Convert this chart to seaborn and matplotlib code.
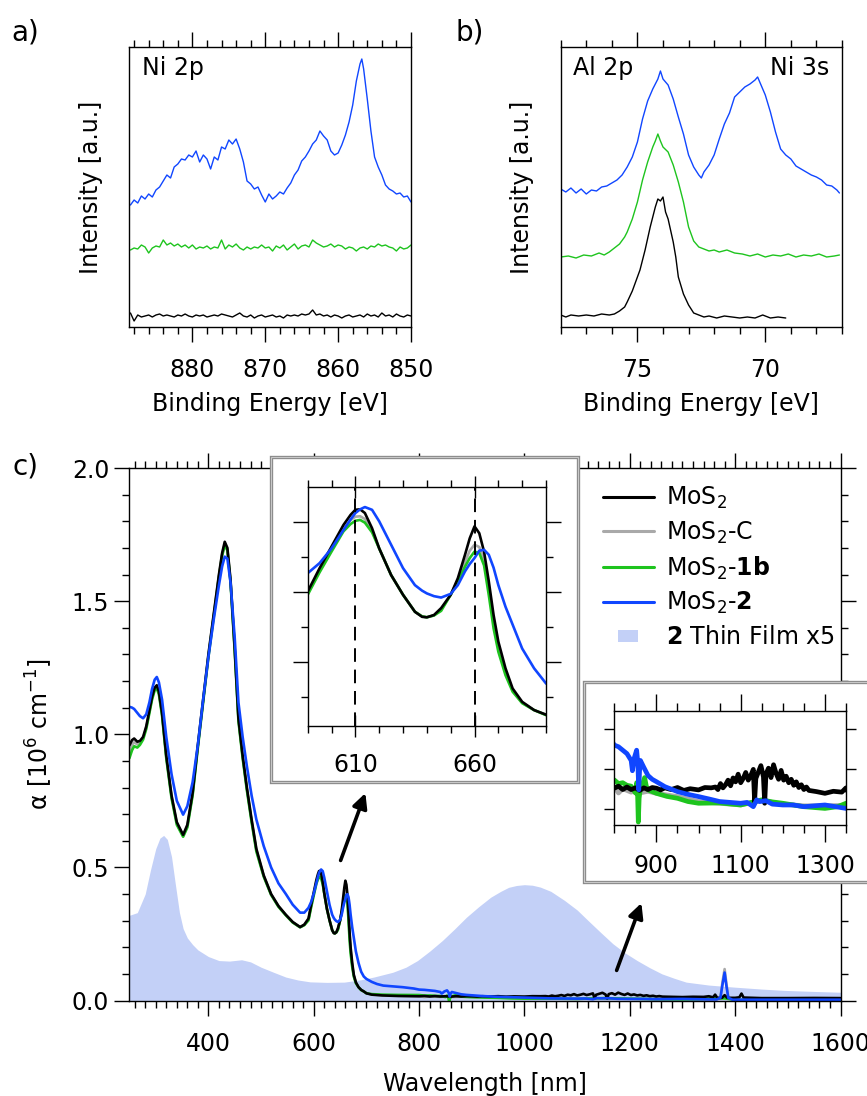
import numpy as np
import matplotlib
matplotlib.use("Agg")
import matplotlib.pyplot as plt
import seaborn as sns
from matplotlib.lines import Line2D
from matplotlib.patches import Rectangle
from matplotlib.ticker import MultipleLocator, FixedLocator, FormatStrFormatter

# ---------------- DATA ----------------
# Panel a: Ni 2p (binding energy, eV; intensity a.u.)
ni2p_blue_x = [888.5, 888.0, 887.5, 887.0, 886.5, 886.0, 885.5, 885.0, 884.5, 884.0,
               883.5, 883.0, 882.5, 882.0, 881.5, 881.0, 880.5, 880.0, 879.5, 879.0,
               878.5, 878.0, 877.5, 877.0, 876.5, 876.0, 875.5, 875.0, 874.5, 874.0,
               873.5, 873.0, 872.5, 872.0, 871.5, 871.0, 870.5, 870.0, 869.5, 869.0,
               868.5, 868.0, 867.5, 867.0, 866.5, 866.0, 865.5, 865.0, 864.5, 864.0,
               863.5, 863.0, 862.5, 862.0, 861.5, 861.0, 860.5, 860.0, 859.5, 859.0,
               858.5, 858.0, 857.5, 857.0, 856.75, 856.5, 856.0, 855.5, 855.0, 854.5,
               854.0, 853.5, 853.0, 852.5, 852.0, 851.5, 851.0, 850.5, 850.0]
ni2p_blue_y = [122, 127, 124, 131, 128, 133, 130, 137, 140, 146,
               152, 149, 160, 163, 168, 167, 172, 170, 176, 165,
               172, 168, 158, 170, 167, 180, 178, 187, 183, 188,
               178, 165, 146, 143, 138, 140, 132, 125, 133, 128,
               131, 135, 133, 139, 144, 152, 157, 166, 170, 176,
               183, 187, 196, 191, 187, 176, 172, 174, 182, 192,
               205, 222, 246, 263, 268, 258, 228, 196, 170, 160,
               152, 142, 138, 136, 133, 134, 130, 131, 125]
ni2p_grid = np.arange(888.5, 849.9, -0.5)
ni2p_green_y = [77, 79, 78, 82, 80, 74, 79, 81, 80, 87,
                82, 84, 81, 83, 80, 82, 79, 82, 78, 80,
                79, 81, 78, 80, 79, 87, 78, 82, 80, 83,
                79, 77, 80, 78, 80, 79, 82, 79, 80, 76,
                81, 79, 82, 77, 80, 83, 78, 81, 82, 80,
                87, 84, 82, 80, 81, 83, 80, 82, 81, 78,
                80, 79, 76, 79, 80, 78, 81, 80, 83, 81,
                82, 80, 79, 76, 80, 78, 79, 82]
ni2p_black_y = [14, 6, 12, 10, 11, 12, 10, 12, 13, 11,
                12, 11, 10, 12, 11, 13, 11, 10, 12, 11,
                12, 10, 11, 12, 11, 13, 12, 11, 10, 12,
                14, 11, 10, 12, 9, 11, 12, 10, 11, 12,
                10, 11, 9, 12, 11, 12, 11, 13, 12, 13,
                17, 12, 13, 11, 12, 10, 12, 11, 9, 11,
                12, 10, 11, 12, 10, 13, 11, 12, 10, 14,
                11, 12, 10, 13, 11, 10, 12, 11]

# Panel b: Al 2p / Ni 3s
b_blue_x = [78.0, 77.8, 77.6, 77.4, 77.2, 77.0, 76.8, 76.6, 76.4, 76.2,
            76.0, 75.8, 75.6, 75.4, 75.2, 75.0, 74.8, 74.6, 74.4, 74.2,
            74.1, 74.0, 73.8, 73.6, 73.4, 73.2, 73.0, 72.8, 72.6, 72.5,
            72.4, 72.2, 72.0, 71.8, 71.6, 71.4, 71.2, 71.0, 70.8, 70.6,
            70.4, 70.3, 70.2, 70.0, 69.8, 69.6, 69.4, 69.2, 69.0, 68.8,
            68.6, 68.4, 68.2, 68.0, 67.8, 67.6, 67.4, 67.2, 67.1]
b_blue_y = [138, 135, 139, 134, 138, 133, 137, 136, 140, 141,
            144, 147, 152, 160, 170, 185, 208, 226, 238, 248,
            256, 248, 242, 228, 210, 193, 172, 160, 152, 149,
            155, 162, 172, 188, 203, 214, 230, 235, 240, 243,
            247, 250, 244, 232, 215, 195, 178, 172, 168, 161,
            158, 155, 152, 150, 147, 142, 141, 137, 134]
b_green_x = [78.0, 77.7, 77.4, 77.1, 76.8, 76.5, 76.3, 76.1, 75.9, 75.7,
             75.5, 75.4, 75.2, 75.0, 74.8, 74.6, 74.4, 74.3, 74.2, 74.1,
             74.0, 73.8, 73.6, 73.4, 73.2, 73.0, 72.8, 72.6, 72.4, 72.2,
             72.0, 71.8, 71.5, 71.2, 70.9, 70.6, 70.3, 70.0, 69.7, 69.4,
             69.1, 68.8, 68.5, 68.2, 67.9, 67.6, 67.3, 67.1]
b_green_y = [70, 71, 69, 72, 71, 74, 72, 75, 79, 83,
             90, 95, 108, 125, 147, 165, 180, 186, 193, 186,
             180, 175, 162, 145, 125, 100, 86, 80, 78, 76,
             77, 75, 77, 74, 73, 71, 73, 70, 72, 71,
             73, 70, 72, 71, 73, 70, 71, 72]
b_black_x = [78.0, 77.8, 77.6, 77.3, 77.0, 76.7, 76.4, 76.1, 75.9, 75.7,
             75.5, 75.4, 75.2, 75.0, 74.9, 74.7, 74.5, 74.4, 74.3, 74.2,
             74.1, 74.0, 73.9, 73.8, 73.6, 73.5, 73.4, 73.2, 73.0, 72.8,
             72.6, 72.4, 72.2, 71.9, 71.6, 71.3, 71.0, 70.7, 70.4, 70.1,
             69.8, 69.5, 69.2]
b_black_y = [12, 10, 12, 11, 12, 11, 13, 12, 13, 16,
             20, 25, 36, 50, 57, 77, 100, 110, 120, 128,
             126, 130, 115, 108, 85, 70, 50, 33, 22, 14,
             12, 10, 11, 9, 11, 10, 9, 10, 9, 12,
             9, 10, 9]

# Panel c: absorption coefficient (10^6 cm^-1) vs wavelength (nm)
wl_vis = [250, 255, 259, 265, 270, 276, 282, 288, 293, 298,
          302, 306, 312, 320, 330, 340, 352, 360, 370, 380,
          390, 400, 410, 420, 426, 431, 436, 442, 450, 457,
          465, 473, 482, 491, 505, 519, 533, 547, 560, 574,
          582, 590, 595, 600, 605, 608, 610, 612, 614, 617,
          620, 625, 630, 635, 638, 640, 643, 646, 650, 653,
          656, 658, 660, 662, 664, 666, 668, 670, 673, 676,
          680, 685, 690]
mos2_vis = [0.958, 0.978, 0.984, 0.972, 0.975, 0.990, 1.030, 1.090, 1.140, 1.175,
            1.184, 1.160, 1.080, 0.920, 0.770, 0.670, 0.622, 0.660, 0.780, 0.960,
            1.130, 1.300, 1.450, 1.600, 1.680, 1.723, 1.700, 1.580, 1.320, 1.060,
            0.920, 0.800, 0.680, 0.570, 0.470, 0.400, 0.355, 0.322, 0.295, 0.276,
            0.285, 0.308, 0.359, 0.406, 0.453, 0.475, 0.486, 0.487, 0.479, 0.446,
            0.402, 0.344, 0.301, 0.264, 0.253, 0.252, 0.257, 0.272, 0.301, 0.337,
            0.388, 0.424, 0.450, 0.435, 0.395, 0.330, 0.257, 0.199, 0.141, 0.097,
            0.068, 0.050, 0.040]
mos2c_vis = [0.935, 0.960, 0.970, 0.962, 0.968, 0.985, 1.025, 1.085, 1.135, 1.170,
             1.178, 1.155, 1.075, 0.915, 0.765, 0.665, 0.618, 0.655, 0.775, 0.955,
             1.125, 1.295, 1.445, 1.595, 1.675, 1.715, 1.695, 1.575, 1.315, 1.055,
             0.915, 0.795, 0.675, 0.565, 0.468, 0.398, 0.353, 0.321, 0.294, 0.275,
             0.284, 0.304, 0.353, 0.399, 0.445, 0.464, 0.471, 0.472, 0.466, 0.441,
             0.402, 0.344, 0.301, 0.264, 0.254, 0.252, 0.256, 0.269, 0.301, 0.333,
             0.372, 0.397, 0.410, 0.405, 0.378, 0.315, 0.242, 0.188, 0.133, 0.093,
             0.066, 0.050, 0.040]
mos2_1b_vis = [0.910, 0.940, 0.955, 0.950, 0.960, 0.980, 1.020, 1.080, 1.130, 1.165,
               1.172, 1.150, 1.070, 0.910, 0.760, 0.660, 0.615, 0.650, 0.770, 0.950,
               1.120, 1.290, 1.440, 1.590, 1.670, 1.710, 1.690, 1.570, 1.310, 1.050,
               0.910, 0.790, 0.670, 0.560, 0.465, 0.397, 0.352, 0.320, 0.293, 0.275,
               0.283, 0.301, 0.350, 0.395, 0.439, 0.455, 0.462, 0.464, 0.458, 0.437,
               0.402, 0.344, 0.301, 0.264, 0.254, 0.252, 0.256, 0.266, 0.301, 0.330,
               0.362, 0.381, 0.395, 0.392, 0.365, 0.300, 0.228, 0.177, 0.126, 0.090,
               0.065, 0.050, 0.039]
mos2_2_vis = [1.103, 1.100, 1.095, 1.080, 1.068, 1.060, 1.075, 1.120, 1.170, 1.205,
              1.215, 1.195, 1.130, 0.990, 0.850, 0.750, 0.698, 0.730, 0.820, 0.960,
              1.130, 1.290, 1.430, 1.560, 1.630, 1.667, 1.660, 1.570, 1.360, 1.120,
              0.990, 0.880, 0.770, 0.680, 0.580, 0.500, 0.440, 0.400, 0.360, 0.330,
              0.330, 0.348, 0.370, 0.402, 0.442, 0.465, 0.479, 0.487, 0.492, 0.486,
              0.461, 0.410, 0.359, 0.322, 0.310, 0.304, 0.298, 0.295, 0.303, 0.322,
              0.352, 0.368, 0.381, 0.397, 0.399, 0.388, 0.360, 0.322, 0.275, 0.236,
              0.184, 0.141, 0.108]

mos2_nir_x = [695, 700, 710, 730, 760, 800, 810, 820, 830, 840,
              850, 860, 870, 880, 890, 900, 910, 920, 935, 950,
              965, 980, 1000, 1015, 1030, 1040, 1046, 1052, 1058, 1064,
              1070, 1076, 1082, 1088, 1094, 1100, 1106, 1112, 1118, 1124,
              1130, 1133, 1136, 1142, 1148, 1154, 1157, 1160, 1166, 1172,
              1178, 1184, 1190, 1196, 1202, 1208, 1214, 1220, 1226, 1232,
              1238, 1244, 1250, 1256, 1262, 1280, 1300, 1320, 1340, 1350,
              1358, 1362, 1366, 1375, 1380, 1385, 1400, 1408, 1412, 1416,
              1450, 1500, 1550, 1600]
mos2_nir_y = [0.034, 0.027, 0.022, 0.019, 0.017, 0.0158, 0.0170, 0.0150, 0.0165, 0.0150,
              0.0160, 0.0145, 0.0160, 0.0150, 0.0162, 0.0158, 0.0148, 0.0160, 0.0150, 0.0162,
              0.0145, 0.0155, 0.0148, 0.0162, 0.0160, 0.0165, 0.0150, 0.0185, 0.0160, 0.0178,
              0.0205, 0.0172, 0.0218, 0.0195, 0.0240, 0.0190, 0.0215, 0.0250, 0.0205, 0.0232,
              0.0268, 0.0080, 0.0215, 0.0252, 0.0290, 0.0225, 0.0070, 0.0240, 0.0275, 0.0220,
              0.0295, 0.0245, 0.0210, 0.0262, 0.0205, 0.0228, 0.0190, 0.0210, 0.0175, 0.0195,
              0.0162, 0.0178, 0.0150, 0.0165, 0.0145, 0.0138, 0.0128, 0.0140, 0.0135, 0.0160,
              0.0120, 0.0220, 0.0100, 0.0100, 0.0200, 0.0100, 0.0100, 0.0120, 0.0260, 0.0110,
              0.0090, 0.0090, 0.0095, 0.0090]
mos2c_nir_x = [695, 700, 710, 730, 760, 800, 810, 820, 840, 850,
               860, 880, 900, 950, 1000, 1050, 1100, 1150, 1200, 1250,
               1300, 1350, 1372, 1376, 1380, 1383, 1387, 1400, 1500, 1600]
mos2c_nir_y = [0.034, 0.028, 0.023, 0.020, 0.018, 0.0167, 0.013, 0.0155, 0.0135, 0.0145,
               0.013, 0.014, 0.0128, 0.0109, 0.008, 0.007, 0.006, 0.0085, 0.0065, 0.0055,
               0.0055, 0.0058, 0.010, 0.070, 0.118, 0.070, 0.010, 0.004, 0.004, 0.004]
mos2_1b_nir_x = [695, 700, 710, 730, 760, 800, 810, 820, 830, 840,
                 850, 853, 855, 857, 859, 862, 868, 872, 876, 880,
                 890, 900, 925, 950, 975, 1000, 1050, 1100, 1125, 1150,
                 1175, 1200, 1250, 1300, 1330, 1350, 1380, 1400, 1500, 1600]
mos2_1b_nir_y = [0.034, 0.027, 0.024, 0.022, 0.021, 0.0206, 0.0185, 0.019, 0.0175, 0.017,
                 0.013, 0.019, 0.015, -0.004, 0.010, 0.016, 0.019, 0.022, 0.017, 0.0148,
                 0.0138, 0.0128, 0.011, 0.0099, 0.008, 0.007, 0.0072, 0.006, 0.0075, 0.009,
                 0.0078, 0.007, 0.005, 0.004, 0.005, 0.007, 0.008, 0.002, 0.002, 0.002]
mos2_2_nir_x = [695, 700, 710, 720, 732, 750, 769, 790, 800, 810,
                820, 830, 840, 843, 848, 853, 856, 858, 860, 862,
                870, 880, 890, 900, 920, 950, 975, 1000, 1025, 1050,
                1075, 1100, 1115, 1130, 1138, 1145, 1160, 1175, 1200, 1225,
                1250, 1275, 1300, 1325, 1350, 1365, 1372, 1376, 1380, 1383,
                1387, 1395, 1450, 1500, 1550, 1600]
mos2_2_nir_y = [0.090, 0.081, 0.070, 0.062, 0.056, 0.053, 0.050, 0.045, 0.041, 0.040,
                0.038, 0.036, 0.032, 0.026, 0.034, 0.038, 0.030, 0.0148, 0.026, 0.032,
                0.028, 0.0232, 0.021, 0.0196, 0.0167, 0.0138, 0.0122, 0.0109, 0.0095, 0.008,
                0.0075, 0.007, 0.0075, 0.005, 0.009, 0.008, 0.0085, 0.0065, 0.006, 0.006,
                0.005, 0.0055, 0.006, 0.005, 0.004, 0.004, 0.010, 0.060, 0.105, 0.060,
                0.010, 0.003, 0.003, 0.003, 0.003, 0.003]

film_x = [250, 265, 280, 290, 300, 308, 315, 322, 330, 337,
          345, 352, 360, 370, 380, 400, 420, 440, 463, 480,
          500, 525, 547, 570, 593, 625, 658, 690, 714, 750,
          775, 797, 820, 844, 867, 890, 913, 936, 955, 970,
          985, 1000, 1015, 1030, 1050, 1076, 1100, 1121, 1145, 1168,
          1190, 1214, 1238, 1261, 1285, 1307, 1350, 1400, 1450, 1493,
          1550, 1600]
film_y = [0.32, 0.33, 0.40, 0.49, 0.57, 0.61, 0.62, 0.605, 0.54, 0.44,
          0.33, 0.27, 0.235, 0.21, 0.19, 0.165, 0.15, 0.148, 0.153, 0.145,
          0.125, 0.105, 0.088, 0.077, 0.070, 0.068, 0.069, 0.078, 0.088, 0.106,
          0.125, 0.15, 0.185, 0.225, 0.268, 0.313, 0.352, 0.388, 0.41, 0.425,
          0.432, 0.435, 0.433, 0.426, 0.41, 0.376, 0.34, 0.30, 0.255, 0.213,
          0.18, 0.15, 0.123, 0.10, 0.083, 0.069, 0.058, 0.05, 0.043, 0.038,
          0.034, 0.031]

series_labels = ["MoS$_2$", "MoS$_2$-C", r"MoS$_2$-$\mathbf{1b}$", r"MoS$_2$-$\mathbf{2}$"]
film_label = r"$\mathbf{2}$ Thin Film x5"
peak_marks = [610, 660]
# arrows (tail, head) in main-axes data units
arrow_specs = [((651, 0.526), (698, 0.779)), ((1175, 0.113), (1222, 0.366))]

# ---------------- STYLE ----------------
sns.set_style("ticks")
plt.rcParams['font.family'] = ['DejaVu Sans']
plt.rcParams['mathtext.fontset'] = 'dejavusans'
plt.rcParams['axes.linewidth'] = 1.0
plt.rcParams['axes.edgecolor'] = 'black'
plt.rcParams['text.color'] = 'black'
plt.rcParams['axes.labelcolor'] = 'black'
plt.rcParams['xtick.color'] = 'black'
plt.rcParams['ytick.color'] = 'black'

C_BLACK = '#000000'
C_GRAY = '#a9a9a9'
C_GREEN = '#1ec41e'
C_BLUE = '#1046ff'
C_FILM = '#c3d0f7'
FS = 17

W, H = 867, 1096
fig = plt.figure(figsize=(W / 100, H / 100), dpi=100)


def rect(l, t, r, b):
    return [l / W, 1 - b / H, (r - l) / W, (b - t) / H]


def line(ax, x, y, color, lw):
    sns.lineplot(x=np.asarray(x, float), y=np.asarray(y, float), ax=ax, color=color,
                 linewidth=lw, estimator=None, sort=False, legend=False)


def xps_axes(ax, xlim, major, minor):
    ax.set_xlim(*xlim)
    ax.set_ylim(0, 280)
    ax.xaxis.set_major_locator(MultipleLocator(major))
    ax.xaxis.set_minor_locator(MultipleLocator(minor))
    ax.set_yticks([])
    ax.tick_params(axis='x', which='both', direction='out', top=True, bottom=True,
                   labelsize=FS, width=1.0, color='k')
    ax.tick_params(axis='x', which='major', length=10.5, pad=12)
    ax.tick_params(axis='x', which='minor', length=5)
    ax.set_xlabel('Binding Energy [eV]', fontsize=FS, labelpad=7)
    ax.set_ylabel('Intensity [a.u.]', fontsize=FS, labelpad=19)
    for s in ax.spines.values():
        s.set_visible(True)


# ---------------- Panel a ----------------
axA = fig.add_axes(rect(129, 47, 411, 327))
line(axA, ni2p_blue_x, ni2p_blue_y, C_BLUE, 1.0)
line(axA, ni2p_grid, ni2p_green_y, C_GREEN, 1.0)
line(axA, ni2p_grid, ni2p_black_y, C_BLACK, 1.0)
xps_axes(axA, (888.7, 850), 10, 2)
axA.text(0.045, 0.925, 'Ni 2p', transform=axA.transAxes, fontsize=FS, va='center', ha='left')

# ---------------- Panel b ----------------
axB = fig.add_axes(rect(560.7, 47, 842, 327))
line(axB, b_blue_x, b_blue_y, C_BLUE, 1.0)
line(axB, b_green_x, b_green_y, C_GREEN, 1.0)
line(axB, b_black_x, b_black_y, C_BLACK, 1.0)
xps_axes(axB, (78.0, 67.0), 5, 1)
axB.text(0.045, 0.925, 'Al 2p', transform=axB.transAxes, fontsize=FS, va='center', ha='left')
axB.text(0.955, 0.925, 'Ni 3s', transform=axB.transAxes, fontsize=FS, va='center', ha='right')

fig.text(11 / W, 1 - 32 / H, 'a)', fontsize=20, va='center', ha='left')
fig.text(455 / W, 1 - 32 / H, 'b)', fontsize=20, va='center', ha='left')
fig.text(12 / W, 1 - 467 / H, 'c)', fontsize=20, va='center', ha='left')

# ---------------- Panel c (main) ----------------
series = [
    (mos2c_vis, mos2c_nir_x, mos2c_nir_y, C_GRAY),
    (mos2_1b_vis, mos2_1b_nir_x, mos2_1b_nir_y, C_GREEN),
    (mos2_vis, mos2_nir_x, mos2_nir_y, C_BLACK),
    (mos2_2_vis, mos2_2_nir_x, mos2_2_nir_y, C_BLUE),
]

axC = fig.add_axes(rect(129.4, 468, 840.5, 1000.5))
axC.set_zorder(0)
axC.fill_between(film_x, 0, film_y, color=C_FILM, lw=0, zorder=1)
for vis, nx, ny, col in series:
    line(axC, list(wl_vis) + list(nx), list(vis) + list(ny), col, 1.9)
axC.set_xlim(250, 1600)
axC.set_ylim(0, 2.0)
axC.xaxis.set_major_locator(MultipleLocator(200))
axC.xaxis.set_minor_locator(MultipleLocator(20))
axC.yaxis.set_major_locator(MultipleLocator(0.5))
axC.yaxis.set_minor_locator(MultipleLocator(0.1))
axC.yaxis.set_major_formatter(FormatStrFormatter('%.1f'))
axC.tick_params(which='both', direction='out', top=True, right=True, labelsize=FS,
                width=1.0, color='k')
axC.tick_params(which='major', length=10.5)
axC.tick_params(which='minor', length=5)
axC.tick_params(axis='x', which='major', pad=12)
axC.tick_params(axis='y', which='major', pad=4)
axC.set_xlabel('Wavelength [nm]', fontsize=FS, labelpad=12)
axC.set_ylabel('α [10$^{6}$ cm$^{-1}$]', fontsize=FS, labelpad=12)

for tail, head in arrow_specs:
    axC.annotate('', xy=head, xytext=tail, xycoords='data', textcoords='data',
                 arrowprops=dict(arrowstyle='-|>', color='k', lw=2.6, mutation_scale=22,
                                 shrinkA=0, shrinkB=0), zorder=5)

handles = [Line2D([], [], color=c, lw=2.2) for c in (C_BLACK, C_GRAY, C_GREEN, C_BLUE)]
handles.append(Line2D([], [], ls='none', marker=[(-1, -0.55), (1, -0.55), (1, 0.55), (-1, 0.55)],
                      ms=15, color=C_FILM, markeredgewidth=0))
leg = axC.legend(handles, series_labels + [film_label], loc='upper left',
                 bbox_to_anchor=(603 / W, 1 - 485 / H), bbox_transform=fig.transFigure,
                 frameon=False, fontsize=17, handlelength=2.15, handletextpad=0.5,
                 labelspacing=0.36, borderpad=0, borderaxespad=0)


def inset_box(l, t, r, b):
    fig.add_artist(Rectangle((l / W, 1 - b / H), (r - l) / W, (b - t) / H,
                             transform=fig.transFigure, facecolor='white',
                             edgecolor='#8a8a8a', lw=2.4, zorder=2))
    fig.add_artist(Rectangle((l / W, 1 - b / H), (r - l) / W, (b - t) / H,
                             transform=fig.transFigure, facecolor='none',
                             edgecolor='#c8c8c8', lw=0.8, zorder=2.1))


# ---------------- Inset 1 ----------------
inset_box(271, 457, 578, 782)
axI = fig.add_axes(rect(307.7, 487.3, 546, 725.7))
axI.set_zorder(3)
for vis, nx, ny, col in series:
    line(axI, list(wl_vis) + list(nx), list(vis) + list(ny), col, 1.9)
for pm in peak_marks:
    axI.axvline(pm, color='k', lw=1.4, ls=(0, (7, 4)), zorder=6)
axI.set_xlim(590, 690)
axI.set_ylim(0.016, 0.535)
axI.xaxis.set_major_locator(FixedLocator(peak_marks))
axI.xaxis.set_minor_locator(MultipleLocator(10))
axI.yaxis.set_major_locator(FixedLocator([0.154, 0.306, 0.459]))
axI.yaxis.set_minor_locator(FixedLocator([0.078, 0.230, 0.383]))
axI.tick_params(which='both', top=True, right=True, labelleft=False, labelsize=FS,
                width=1.0, color='k')
axI.tick_params(axis='x', which='major', direction='inout', length=16, pad=12)
axI.tick_params(axis='x', which='minor', direction='out', length=5)
axI.tick_params(axis='y', which='major', direction='out', length=10.5)
axI.tick_params(axis='y', which='minor', direction='out', length=5)
axI.set_xlabel('')
axI.set_ylabel('')

# ---------------- Inset 2 ----------------
inset_box(584, 682, 880, 882)
axN = fig.add_axes(rect(614.3, 711, 846, 825))
axN.set_zorder(3)
for vis, nx, ny, col in series:
    line(axN, list(wl_vis) + list(nx), list(vis) + list(ny), col, 3.4)
axN.set_xlim(800, 1350)
axN.set_ylim(-0.0057, 0.0609)
axN.xaxis.set_major_locator(FixedLocator([900, 1100, 1300]))
axN.xaxis.set_minor_locator(MultipleLocator(50))
axN.yaxis.set_major_locator(FixedLocator([0.0035, 0.0268, 0.0502]))
axN.tick_params(which='both', direction='out', top=True, right=True, labelleft=False,
                labelsize=FS, width=1.0, color='k')
axN.tick_params(axis='x', which='major', length=12, pad=9)
axN.tick_params(axis='x', which='minor', length=6)
axN.tick_params(axis='y', which='major', length=7)
axN.set_xlabel('')
axN.set_ylabel('')

fig.savefig('out.png', dpi=100)
